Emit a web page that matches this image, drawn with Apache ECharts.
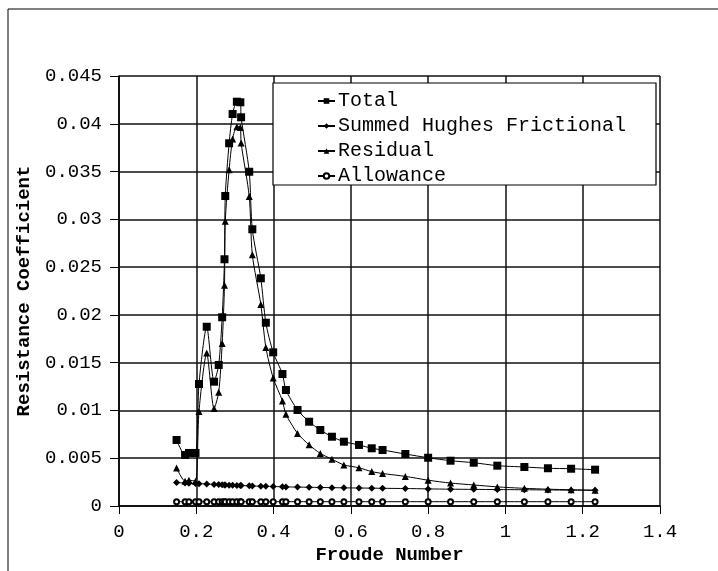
<!DOCTYPE html>
<html>
<head>
<meta charset="utf-8">
<script src="https://cdn.jsdelivr.net/npm/echarts@6/dist/echarts.min.js"></script>
<style>html,body{margin:0;padding:0;background:#fff;}#c{width:718px;height:571px;}</style>
</head>
<body>
<div id="c"></div>
<script>
const froude = [0.149, 0.171, 0.181, 0.198, 0.207, 0.227, 0.246, 0.258, 0.267, 0.273, 0.275, 0.285, 0.294, 0.305, 0.314, 0.316, 0.337, 0.345, 0.367, 0.380, 0.399, 0.423, 0.432, 0.462, 0.492, 0.521, 0.551, 0.582, 0.621, 0.654, 0.682, 0.741, 0.800, 0.858, 0.918, 0.979, 1.049, 1.110, 1.170, 1.232];
const total = [0.00691, 0.00534, 0.00555, 0.00555, 0.01277, 0.01876, 0.01301, 0.01476, 0.01975, 0.02582, 0.03244, 0.03796, 0.04102, 0.04231, 0.04225, 0.04068, 0.03498, 0.02896, 0.02383, 0.01918, 0.01608, 0.01381, 0.01214, 0.01005, 0.00882, 0.00795, 0.00725, 0.00673, 0.00639, 0.00604, 0.00586, 0.00544, 0.00505, 0.00474, 0.00453, 0.00422, 0.00408, 0.00395, 0.0039, 0.0038];
const frictional = [0.00245, 0.0024, 0.00238, 0.00236, 0.00234, 0.0023, 0.00226, 0.00224, 0.00222, 0.00221, 0.0022, 0.00218, 0.00217, 0.00215, 0.00214, 0.00214, 0.00211, 0.0021, 0.00207, 0.00206, 0.00204, 0.00201, 0.002, 0.00198, 0.00196, 0.00194, 0.00192, 0.0019, 0.00188, 0.00187, 0.00185, 0.00183, 0.00179, 0.00176, 0.00174, 0.00172, 0.0017, 0.00168, 0.00166, 0.00164];
const residual = [0.00398, 0.0026, 0.0027, 0.0026, 0.0099, 0.016, 0.0102, 0.0119, 0.017, 0.0231, 0.0298, 0.0352, 0.0384, 0.0397, 0.0396, 0.038, 0.0324, 0.0263, 0.0211, 0.0166, 0.0134, 0.011, 0.0096, 0.0076, 0.0064, 0.0055, 0.0049, 0.0043, 0.004, 0.0036, 0.0034, 0.0031, 0.0027, 0.0024, 0.0022, 0.002, 0.00185, 0.00176, 0.0017, 0.00165];
const allowance = [0.00045, 0.00045, 0.00045, 0.00045, 0.00045, 0.00045, 0.00045, 0.00045, 0.00045, 0.00045, 0.00045, 0.00045, 0.00045, 0.00045, 0.00045, 0.00045, 0.00045, 0.00045, 0.00045, 0.00045, 0.00045, 0.00045, 0.00045, 0.00045, 0.00045, 0.00045, 0.00045, 0.00045, 0.00045, 0.00045, 0.00045, 0.00045, 0.00045, 0.00045, 0.00045, 0.00045, 0.00045, 0.00045, 0.00045, 0.00045];
const seriesNames = ['Total', 'Summed Hughes Frictional', 'Residual', 'Allowance'];
const xTicks = [0, 0.2, 0.4, 0.6, 0.8, 1, 1.2, 1.4];
const yTicks = [0, 0.005, 0.01, 0.015, 0.02, 0.025, 0.03, 0.035, 0.04, 0.045];

const FONT = '"Liberation Mono", "DejaVu Sans Mono", monospace';
const chart = echarts.init(document.getElementById('c'));
function pairs(arr) { return froude.map((x, i) => [x, arr[i]]); }
function mkSeries(name, arr, symbol, size, hollow) {
  return {
    name: name, type: 'line', data: pairs(arr), smooth: 0.25,
    symbol: symbol, symbolSize: size, showSymbol: true,
    lineStyle: { color: '#000', width: 1 },
    itemStyle: hollow ? { color: '#000', borderColor: '#000', borderWidth: 1.2 } : { color: '#000', borderWidth: 0 },
    emphasis: { disabled: true }, animation: false, z: 2
  };
}
const gridLine = { show: true, lineStyle: { color: '#111', width: 1.5 } };
chart.setOption({
  animation: false,
  backgroundColor: '#fff',
  grid: { left: 119, right: 58, top: 76, bottom: 65, containLabel: false },
  xAxis: {
    type: 'value', min: xTicks[0], max: xTicks[xTicks.length - 1], interval: xTicks[1] - xTicks[0],
    name: 'Froude Number', nameLocation: 'middle', nameGap: 38,
    nameTextStyle: { fontFamily: FONT, fontWeight: 'bold', fontSize: 19, color: '#000' },
    axisLine: { lineStyle: { color: '#000', width: 1.5 } },
    axisTick: { show: true, inside: false, length: 8, lineStyle: { color: '#000' } },
    axisLabel: { fontFamily: FONT, fontSize: 19, color: '#000', margin: 16,
      formatter: v => String(+v.toFixed(1)) },
    splitLine: gridLine
  },
  yAxis: {
    type: 'value', min: yTicks[0], max: yTicks[yTicks.length - 1], interval: yTicks[1] - yTicks[0],
    name: 'Resistance Coefficient', nameLocation: 'middle', nameGap: 77,
    nameTextStyle: { fontFamily: FONT, fontWeight: 'bold', fontSize: 19, color: '#000' },
    axisLine: { show: true, lineStyle: { color: '#000', width: 1.5 } },
    axisTick: { show: true, inside: false, length: 9, lineStyle: { color: '#000' } },
    axisLabel: { fontFamily: FONT, fontSize: 19, color: '#000', margin: 17,
      formatter: v => String(+v.toFixed(3)) },
    splitLine: gridLine
  },
  legend: {
    orient: 'vertical', left: 312, top: 86, z: 5,
    data: seriesNames, itemWidth: 17, itemHeight: 7, itemGap: 5,
    selectedMode: false,
    textStyle: { fontFamily: FONT, fontSize: 20, color: '#000', lineHeight: 20, padding: [0, 0, 0, -2] }
  },
  graphic: [
    { type: 'rect', z: 4, shape: { x: 273, y: 83, width: 383, height: 102 },
      style: { fill: '#fff', stroke: '#000', lineWidth: 1.2 } },
    { type: 'line', z: 1, shape: { x1: 8, y1: 9, x2: 8, y2: 571 }, style: { stroke: '#000', lineWidth: 1 } },
    { type: 'line', z: 1, shape: { x1: 8, y1: 9, x2: 718, y2: 9 }, style: { stroke: '#000', lineWidth: 1 } }
  ],
  series: [
    mkSeries(seriesNames[0], total, 'rect', 8, false),
    mkSeries(seriesNames[1], frictional, 'diamond', 7, false),
    mkSeries(seriesNames[2], residual, 'triangle', 7, false),
    mkSeries(seriesNames[3], allowance, 'emptyCircle', 5, true)
  ]
});
</script>
</body>
</html>
